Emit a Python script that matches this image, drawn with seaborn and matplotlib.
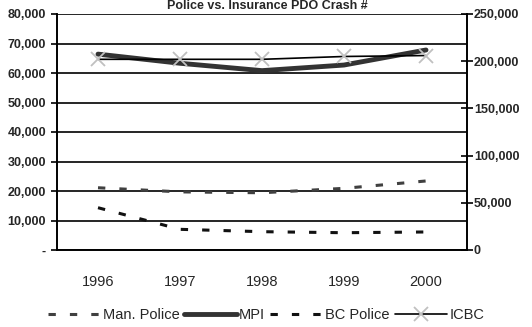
import matplotlib
matplotlib.use("Agg")
import matplotlib.pyplot as plt
import seaborn as sns
import pandas as pd
import numpy as np
from matplotlib.ticker import FuncFormatter, FixedLocator

years = ["1996", "1997", "1998", "1999", "2000"]
man_police = [21100, 19700, 19400, 20900, 23400]   # left axis
mpi = [66400, 63300, 60800, 62700, 67800]           # left axis
bc_police = [44800, 21900, 19400, 18300, 19100]     # right axis
icbc = [202000, 202000, 202000, 205000, 206000]     # right axis
left_ticks = [0, 10000, 20000, 30000, 40000, 50000, 60000, 70000, 80000]
right_ticks = [0, 50000, 100000, 150000, 200000, 250000]

sns.set_theme(style="white")
plt.rcParams['font.family'] = ['Liberation Sans', 'DejaVu Sans']

fig = plt.figure(figsize=(5.32, 3.27), dpi=100)
ax = fig.add_axes([57/532, 1-250/327, 410/532, 236/327])
ax2 = ax.twinx()

x = np.arange(len(years))
df = pd.DataFrame({"x": x, "man": man_police, "mpi": mpi, "bc": bc_police, "icbc": icbc})

dash = (0, (2.4, 4.6))
sns.lineplot(data=df, x="x", y="man", ax=ax, color="#404040", lw=2.2,
             linestyle=dash, label="Man. Police", legend=False)
sns.lineplot(data=df, x="x", y="mpi", ax=ax, color="#333333", lw=3.5,
             solid_capstyle="round", label="MPI", legend=False)
sns.lineplot(data=df, x="x", y="bc", ax=ax2, color="#111111", lw=2.2,
             linestyle=dash, label="BC Police", legend=False)
sns.lineplot(data=df, x="x", y="icbc", ax=ax2, color="black", lw=1.2,
             marker="x", markersize=10, markeredgewidth=1.3,
             markeredgecolor="#c0c0c0", label="ICBC", legend=False)

ax.set_xlim(-0.5, 4.5)
ax.set_ylim(0, 80000)
ax2.set_ylim(0, 250000)

for a in (ax, ax2):
    a.set_xlabel("")
    a.set_ylabel("")
    for s in a.spines.values():
        s.set_color("black")
        s.set_linewidth(1.2)
ax.spines['top'].set_visible(False)
ax2.spines['top'].set_visible(False)

ax.yaxis.set_major_locator(FixedLocator(left_ticks))
ax.yaxis.set_major_formatter(FuncFormatter(lambda v, p: "-" if v == 0 else f"{int(v):,}"))
ax2.yaxis.set_major_locator(FixedLocator(right_ticks))
ax2.yaxis.set_major_formatter(FuncFormatter(lambda v, p: f"{int(v):,}"))
ax.grid(axis="y", color="black", lw=1.2)
ax.set_axisbelow(True)

ax.set_xticks(np.arange(-0.5, 5, 1))
ax.set_xticklabels([])
ax.set_xticks(x, minor=True)
ax.set_xticklabels(years, minor=True)
ax.tick_params(axis="x", which="major", direction="inout", length=10, width=1.2, color="black")
ax.tick_params(axis="x", which="minor", length=0, pad=18, labelsize=10.5)
ax.tick_params(axis="y", direction="out", length=4, width=1.2, color="black",
               labelsize=9, pad=4, left=True)
ax2.tick_params(axis="y", direction="inout", length=8, width=1.2, color="black",
                labelsize=9, pad=1, right=True)
for lab in ax.get_yticklabels() + ax2.get_yticklabels():
    lab.set_fontweight("bold")

fig.text(0.503, 1.0, "Police vs. Insurance PDO Crash #", ha="center",
         va="top", fontsize=9, fontweight="bold")

h1, l1 = ax.get_legend_handles_labels()
h2, l2 = ax2.get_legend_handles_labels()
fig.legend(h1[:1] + h1[1:2] + h2[:1] + h2[1:2], ["Man. Police", "MPI", "BC Police", "ICBC"],
           loc="center", bbox_to_anchor=(0.50, 1 - 315/327), ncol=4, frameon=False,
           fontsize=10.5, handlelength=3.6, columnspacing=0.35, handletextpad=0.15)

fig.savefig("out.png", dpi=100)
